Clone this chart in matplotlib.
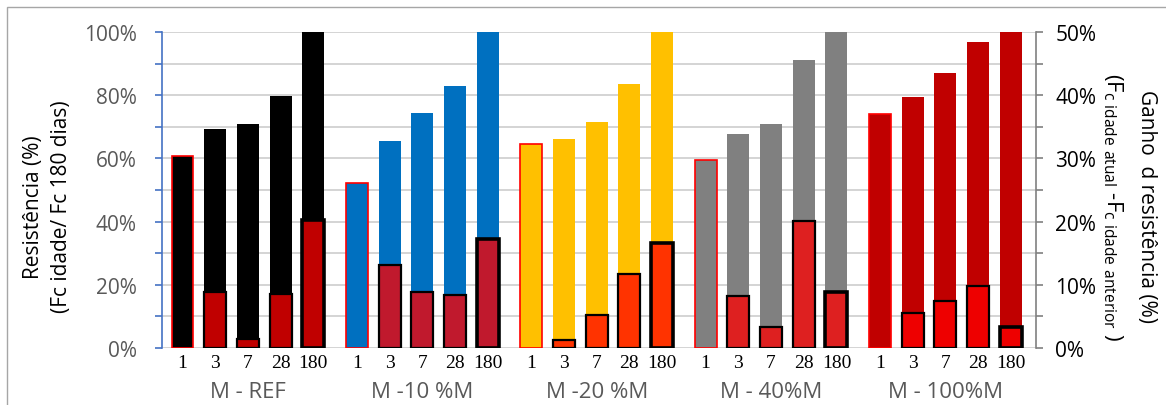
import matplotlib.pyplot as plt
import numpy as np
from matplotlib.patches import Rectangle
from matplotlib.transforms import blended_transform_factory

plt.rcParams['font.family'] = ['Open Sans', 'DejaVu Sans']
plt.rcParams['mathtext.fontset'] = 'custom'
plt.rcParams['mathtext.rm'] = 'Open Sans'

# idades (dias) e misturas
idades = ['1', '3', '7', '28', '180']
misturas = ['M - REF', 'M -10 %M', 'M -20 %M', 'M - 40%M', 'M - 100%M']

# resistencia relativa a 180 dias (%), eixo esquerdo
resistencia = [
    [60.7, 69.3, 70.9, 79.7, 100.0],
    [52.2, 65.5, 74.4, 82.9, 100.0],
    [64.7, 66.1, 71.5, 83.5, 100.0],
    [59.5, 67.7, 70.9, 91.1, 100.0],
    [74.1, 79.4, 87.0, 96.8, 100.0],
]

# ganho de resistencia entre idades (%), eixo direito (idades 3, 7, 28, 180)
ganho = [
    [8.8, 1.4, 8.6, 20.2],
    [13.1, 8.8, 8.4, 17.2],
    [1.3, 5.3, 11.7, 16.6],
    [8.2, 3.3, 20.1, 8.9],
    [5.5, 7.4, 9.8, 3.3],
]

cores = ['#000000', '#0070C0', '#FFC000', '#808080', '#C00000']
cores_ganho = ['#C00000', '#C0192D', '#FF3300', '#DE2020', '#EE0000']

passo_grupo = 5.333
largura = 0.67

fig = plt.figure(figsize=(11.66, 4.06), dpi=100)
ax = fig.add_axes([162 / 1166, 1 - 349 / 406, 874 / 1166, 316 / 406])
ax2 = ax.twinx()

posicoes = []
for g in range(len(misturas)):
    x = g * passo_grupo + 0.627 + np.arange(len(idades))
    posicoes.extend(x)
    ax.bar(x, resistencia[g], width=largura, color=cores[g], zorder=2)
    # primeira idade com contorno vermelho
    ax.bar(x[0], resistencia[g][0], width=largura, color=cores[g],
           edgecolor='#FF0000', linewidth=1.2, zorder=3)
    lw = [1.6, 1.6, 1.6, 2.6]
    ax2.bar(x[1:], ganho[g], width=largura, color=cores_ganho[g],
            edgecolor='black', linewidth=lw, zorder=3)

ax.set_xlim(0, 26.73)
ax.set_ylim(0, 100)
ax2.set_ylim(0, 50)

ax.set_yticks(np.arange(0, 101, 20))
ax.set_yticks(np.arange(0, 101, 10), minor=True)
ax.set_yticklabels([f'{v}%' for v in range(0, 101, 20)])
ax2.set_yticks(np.arange(0, 51, 10))
ax2.set_yticks(np.arange(0, 51, 5), minor=True)
ax2.set_yticklabels([f'{v}%' for v in range(0, 51, 10)])

ax.grid(axis='y', which='both', color='#D4D4D4', linewidth=1.4, zorder=0)
ax.set_axisbelow(True)

for a in (ax, ax2):
    for s in ('top', 'bottom'):
        a.spines[s].set_visible(False)
ax.spines['right'].set_visible(False)
ax2.spines['left'].set_visible(False)
ax.spines['left'].set_color('#4472C4')
ax.spines['left'].set_linewidth(1.2)
ax2.spines['right'].set_color('#808080')
ax2.spines['right'].set_linewidth(1.2)

ax.tick_params(axis='y', which='both', colors='#4472C4', length=5, width=1.2,
               labelcolor='#595959', labelsize=15, pad=13)
ax2.tick_params(axis='y', which='both', colors='#808080', length=5, width=1.2,
                labelcolor='black', labelsize=15, pad=9)

ax.set_xticks(posicoes)
ax.set_xticklabels(idades * len(misturas), fontfamily='Liberation Serif',
                   fontsize=14)
ax.tick_params(axis='x', length=0, pad=4)

trans = blended_transform_factory(ax.transData, ax.transAxes)
for g, nome in enumerate(misturas):
    xc = g * passo_grupo + 0.627 + 2
    ax.text(xc, -0.139, nome, transform=trans, ha='center', va='center',
            fontsize=16, color='#595959')

fig.text(33 / 1166, 1 - 207 / 406, 'Resistência (%)', rotation=90,
         ha='center', va='center', fontsize=15)
fig.text(62 / 1166, 1 - 207 / 406, '(Fc idade/ Fc 180 dias)', rotation=90,
         ha='center', va='center', fontsize=15)
fig.text(1147 / 1166, 1 - 207 / 406, 'Ganho  d resistência (%)', rotation=-90,
         ha='center', va='center', fontsize=15)
fig.text(1113 / 1166, 1 - 207 / 406,
         r'(F$_{\mathrm{c\ idade\ atual}}$ -F$_{\mathrm{c\ idade\ anterior}}$ )',
         rotation=-90, ha='center', va='center', fontsize=16)

fig.patches.append(Rectangle((7 / 1166, -0.05), 1.1, 1 - 8 / 406 + 0.05,
                             transform=fig.transFigure, fill=False,
                             edgecolor='#A6A6A6', linewidth=1.0))

fig.savefig('out.png', dpi=100)
